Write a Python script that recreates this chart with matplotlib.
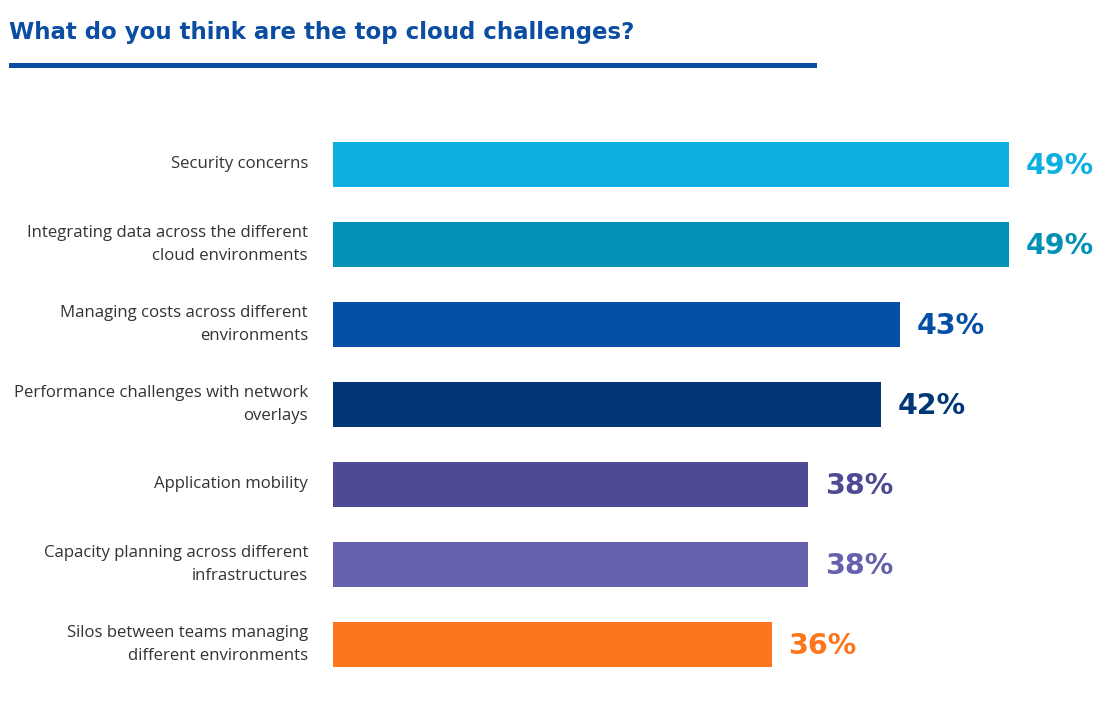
import matplotlib
matplotlib.use("Agg")
import matplotlib.pyplot as plt
from matplotlib.patches import Rectangle

categories = [
    "Security concerns",
    "Integrating data across the different\ncloud environments",
    "Managing costs across different\nenvironments",
    "Performance challenges with network\noverlays",
    "Application mobility",
    "Capacity planning across different\ninfrastructures",
    "Silos between teams managing\ndifferent environments",
]
values = [49, 49, 43, 42, 38, 38, 36]
value_labels = ["49%", "49%", "43%", "42%", "38%", "38%", "36%"]
colors = ["#0BB0E0", "#0391B6", "#054FA6", "#013677", "#4F4A96", "#6661AE", "#FD761E"]
title = "What do you think are the top cloud challenges?"

W, H = 1114, 712
fig = plt.figure(figsize=(W / 100, H / 100), dpi=100)
fig.patch.set_facecolor("white")

# axes placement in pixels
ax_left, ax_right = 333, 1114
ax_top, ax_bottom = 124.5, 684.5
ax = fig.add_axes([ax_left / W, (H - ax_bottom) / H, (ax_right - ax_left) / W, (ax_bottom - ax_top) / H])

ypos = list(range(len(categories)))
ax.barh(ypos, values, height=45 / 80, color=colors, left=0)
xmin = 12
scale = 18.28  # px per unit
ax.set_xlim(xmin, xmin + (ax_right - ax_left) / scale)
ax.set_ylim(len(categories) - 0.5, -0.5)
ax.axis("off")

for y, v, lab, c in zip(ypos, values, value_labels, colors):
    ax.annotate(lab, xy=(v, y), xytext=(12, -1), textcoords="offset points",
                ha="left", va="center", fontsize=20.5, fontweight="bold",
                color=c, family="DejaVu Sans")

for y, cat in zip(ypos, categories):
    ax.annotate(cat, xy=(xmin, y), xytext=(-18, 0), textcoords="offset points",
                ha="right", va="center", fontsize=12.1, color="#333333",
                family="Open Sans", linespacing=1.6, annotation_clip=False)

fig.text(9 / W, 1 - 39 / H, title, ha="left", va="baseline", fontsize=16.5,
         fontweight="bold", color="#0B4DA2", family="DejaVu Sans")
fig.add_artist(Rectangle((9 / W, 1 - 67.5 / H), (817 - 9) / W, 4.5 / H,
                         transform=fig.transFigure, facecolor="#0B4DA2",
                         edgecolor="none"))

fig.savefig("out.png", dpi=100, facecolor="white")
